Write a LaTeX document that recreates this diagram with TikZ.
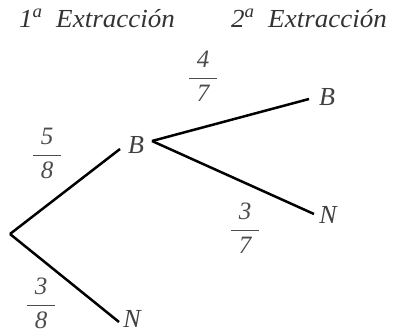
\documentclass[tikz,border=0pt]{standalone}
\usepackage{fontspec}
\setmainfont{Liberation Serif}
\newcommand\frc[2]{$\displaystyle\frac{\makebox[28pt]{\itshape #1}}{\makebox[28pt]{\itshape #2}}$}
\begin{document}
\begin{tikzpicture}[x=1pt,y=-1pt,
  lbl/.style={inner sep=0pt,font=\fontsize{26}{30}\selectfont\itshape,text=black!75},
  frac/.style={inner sep=0pt,anchor=base,font=\fontsize{25}{30}\selectfont,text=black!70},
  head/.style={inner sep=0pt,anchor=base west,font=\fontsize{26}{30}\selectfont\itshape,text=black!80},
  branch/.style={line width=2.5pt,black}]
\useasboundingbox (0,0) rectangle (393,335);
\node[head,xscale=1.04] (h1) at (19,27) {1\textsuperscript{a}\ \ Extracción};
\node[head,xscale=1.04] (h2) at (231,27) {2\textsuperscript{a}\ \ Extracción};
\coordinate (root) at (10,234);
\node[lbl] (B1) at (136,145) {B};
\node[lbl] (N1) at (132,319) {N};
\coordinate (N1in) at (119,322);
\node[lbl] (B2) at (327,97) {B};
\node[lbl] (N2) at (328,215) {N};
\coordinate (b1in) at (120,149);
\coordinate (b1out) at (152,141);
\coordinate (b2in) at (309,99);
\coordinate (n2in) at (314,214);
\draw[branch] (root) -- (b1in);
\draw[branch] (root) -- (N1in);
\draw[branch] (b1out) -- (b2in);
\draw[branch] (b1out) -- (n2in);
\node[frac] (f47) at (203,84) {\frc{4}{7}};
\node[frac] (f58) at (47,161) {\frc{5}{8}};
\node[frac] (f37) at (245,236) {\frc{3}{7}};
\node[frac] (f38) at (41,311) {\frc{3}{8}};
\end{tikzpicture}
\end{document}
